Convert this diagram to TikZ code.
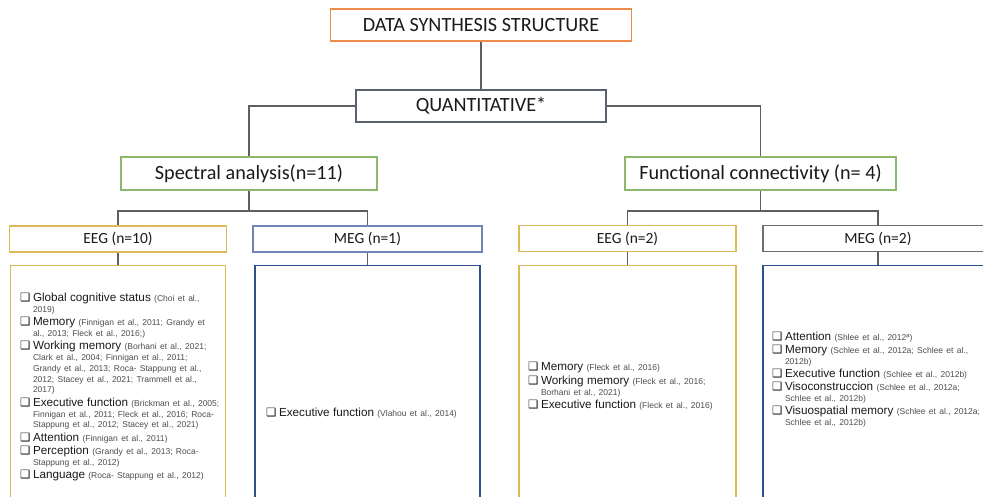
\documentclass[tikz,border=0pt]{standalone}
\usepackage{fontspec}
\setmainfont{Liberation Sans}
\newfontfamily\calib{Carlito}
\newfontfamily\dejavu{DejaVu Sans}
\definecolor{orangeb}{HTML}{EE8A4A}
\definecolor{greenb}{HTML}{8CB86E}
\definecolor{goldb}{HTML}{DDB95A}
\definecolor{blueb}{HTML}{7085B5}
\definecolor{darkblueb}{HTML}{2F4F8F}
\definecolor{greyb}{HTML}{6E6E6E}
\definecolor{quantb}{HTML}{5A6070}
\definecolor{linec}{HTML}{5F5F5F}
\definecolor{maintx}{HTML}{1A1A1A}
\definecolor{citetx}{HTML}{4D4D4D}
\newcommand\bul{{\dejavu\fontsize{11.5}{10.8}\selectfont\color{maintx}❑}}
\newcommand\itm[2]{\hangindent=13pt\hangafter=1\noindent\makebox[13pt][l]{\bul}{\fontsize{11.7}{10.8}\selectfont\color{maintx}#1} {\fontsize{8.5}{10.8}\selectfont\color{citetx}#2\par}}
\newcommand\liststart{\fontsize{8.5}{10.8}\selectfont\setlength\parskip{2.5pt}\setlength\parindent{0pt}}
\tikzset{
  boxnode/.style={draw, line width=1.3pt, inner sep=0pt, text=maintx},
  titlebox/.style={boxnode, font=\calib\fontsize{20.2}{23}\selectfont},
  smallbox/.style={boxnode, font=\calib\fontsize{15.5}{18}\selectfont},
  listtext/.style={anchor=base west, inner sep=0pt, outer sep=0pt, text width=#1},
  conn/.style={draw=linec, line width=1.3pt},
}
\begin{document}
\begin{tikzpicture}[x=1pt,y=-1pt]
\useasboundingbox (0,0) rectangle (983,496);
\clip (0,0) rectangle (983,496);
\fill[white] (0,0) rectangle (983,496);

% top levels
\node[titlebox, draw=orangeb, minimum width=301pt, minimum height=32pt] (top) at (481,25) {DATA SYNTHESIS STRUCTURE};
\node[titlebox, draw=quantb, minimum width=250pt, minimum height=32pt] (quant) at (481,106) {QUANTITATIVE*};
\node[titlebox, draw=greenb, minimum width=256pt, minimum height=33pt] (spec) at (249,173.5) {Spectral analysis(n=11)};
\node[titlebox, draw=greenb, minimum width=271pt, minimum height=33pt] (func) at (760.5,173.5) {Functional connectivity (n= 4)};

% modality boxes
\node[smallbox, draw=goldb, minimum width=217pt, minimum height=26pt] (eeg1) at (118,239) {EEG (n=10)};
\node[smallbox, draw=blueb, minimum width=229pt, minimum height=26pt] (meg1) at (367.5,239) {MEG (n=1)};
\node[smallbox, draw=goldb, minimum width=217pt, minimum height=26pt] (eeg2) at (627.5,238.5) {EEG (n=2)};
\node[smallbox, draw=greyb, minimum width=230pt, minimum height=26pt] (meg2) at (878,238.5) {MEG (n=2)};

% list boxes
\node[boxnode, draw=goldb, minimum width=215pt, minimum height=255pt, anchor=north] (l1) at (118,265) {};
\node[boxnode, draw=darkblueb, minimum width=225pt, minimum height=255pt, anchor=north] (l2) at (367.5,265) {};
\node[boxnode, draw=goldb, minimum width=217pt, minimum height=255pt, anchor=north] (l3) at (627.5,265) {};
\node[boxnode, draw=darkblueb, minimum width=230pt, minimum height=255pt, anchor=north] (l4) at (878,265) {};

% connectors
\draw[conn] (top.south) -- (quant.north);
\draw[conn] (quant.west) -| (spec.north);
\draw[conn] (quant.east) -| (func.north);
\draw[conn] (spec.south) -- (spec.south |- 0,211);
\draw[conn] (eeg1.north) -- (eeg1.north |- 0,211) -| (meg1.north);
\draw[conn] (func.south) -- (func.south |- 0,211);
\draw[conn] (eeg2.north) -- (eeg2.north |- 0,211) -| (meg2.north);
\draw[conn] (eeg1.south) -- (l1.north);
\draw[conn] (meg1.south) -- (l2.north);
\draw[conn] (eeg2.south) -- (l3.north);
\draw[conn] (meg2.south) -- (l4.north);

% list texts
\node[listtext=260pt] (t1) at (20,301.5) {\liststart
\itm{Global cognitive status}{(Choi et al.,\newline 2019)}
\itm{Memory}{(Finnigan et al., 2011; Grandy et\newline al., 2013; Fleck et al., 2016;)}
\itm{Working memory}{(Borhani et al., 2021;\newline Clark et al., 2004; Finnigan et al., 2011;\newline Grandy et al., 2013; Roca- Stappung et al.,\newline 2012; Stacey et al., 2021; Trammell et al.,\newline 2017)}
\itm{Executive function}{(Brickman et al., 2005;\newline Finnigan et al., 2011; Fleck et al., 2016; Roca-\newline Stappung et al., 2012; Stacey et al., 2021)}
\itm{Attention}{(Finnigan et al., 2011)}
\itm{Perception}{(Grandy et al., 2013; Roca-\newline Stappung et al., 2012)}
\itm{Language}{(Roca- Stappung et al., 2012)}};

\node[listtext=260pt] (t2) at (266,416) {\liststart
\itm{Executive function}{(Vlahou et al., 2014)}};

\node[listtext=260pt] (t3) at (528,370) {\liststart
\itm{Memory}{(Fleck et al., 2016)}
\itm{Working memory}{(Fleck et al., 2016;\newline Borhani et al., 2021)}
\itm{Executive function}{(Fleck et al., 2016)}};

\node[listtext=260pt] (t4) at (772,340) {\liststart
\itm{Attention}{(Shlee et al., 2012ª)}
\itm{Memory}{(Schlee et al., 2012a; Schlee et al.,\newline 2012b)}
\itm{Executive function}{(Schlee et al., 2012b)}
\itm{Visoconstruccion}{(Schlee et al., 2012a;\newline Schlee et al., 2012b)}
\itm{Visuospatial memory}{(Schlee et al., 2012a;\newline Schlee et al., 2012b)}};
\end{tikzpicture}
\end{document}
